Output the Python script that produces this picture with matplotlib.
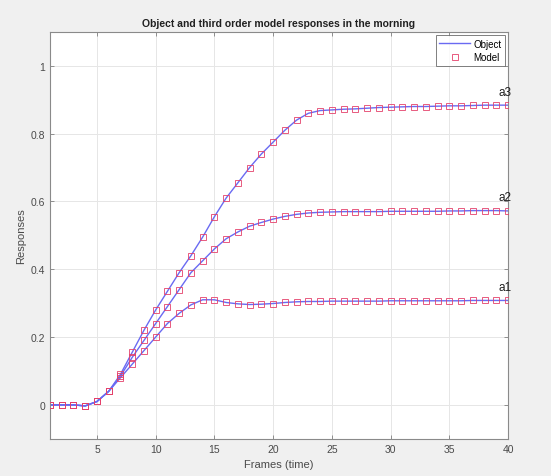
import numpy as np
import matplotlib
matplotlib.use("Agg")
import matplotlib.pyplot as plt

plt.rcParams['font.family'] = ['Liberation Sans', 'DejaVu Sans']

# frames
frames = np.arange(1, 41)

# object responses
a1 = [0, 0, 0, -0.003, 0.01, 0.04, 0.08, 0.12, 0.16, 0.20,
      0.24, 0.27, 0.295, 0.31, 0.31, 0.302, 0.298, 0.296, 0.297, 0.299,
      0.302, 0.304, 0.305, 0.305, 0.306, 0.306, 0.306, 0.306, 0.306, 0.307,
      0.307, 0.307, 0.307, 0.307, 0.307, 0.307, 0.308, 0.308, 0.308, 0.308]
a2 = [0, 0, 0, -0.003, 0.01, 0.04, 0.085, 0.14, 0.19, 0.24,
      0.29, 0.34, 0.39, 0.425, 0.46, 0.49, 0.51, 0.527, 0.538, 0.548,
      0.556, 0.562, 0.566, 0.568, 0.569, 0.57, 0.57, 0.57, 0.57, 0.571,
      0.571, 0.571, 0.571, 0.571, 0.572, 0.572, 0.573, 0.573, 0.573, 0.572]
a3 = [0, 0, 0, -0.003, 0.01, 0.04, 0.09, 0.155, 0.22, 0.28,
      0.335, 0.39, 0.44, 0.495, 0.555, 0.61, 0.655, 0.70, 0.74, 0.775,
      0.81, 0.84, 0.86, 0.868, 0.87, 0.872, 0.873, 0.875, 0.877, 0.878,
      0.879, 0.88, 0.88, 0.881, 0.882, 0.882, 0.883, 0.884, 0.884, 0.884]

# third order model responses (sit on the object curves)
m1 = list(a1)
m2 = list(a2)
m3 = list(a3)

curve_names = ['a1', 'a2', 'a3']
yticks = [0, 0.2, 0.4, 0.6, 0.8, 1]
ytick_labels = ['0', '0.2', '0.4', '0.6', '0.8', '1']
xticks = [5, 10, 15, 20, 25, 30, 35, 40]

fig = plt.figure(figsize=(5.51, 4.77), dpi=100, facecolor='#f0f0f0')
ax = fig.add_axes([0.0907, 0.078, 0.8313, 0.853])

line_col = '#6a6af2'
mark_col = '#e4406a'

objs = [a1, a2, a3]
mods = [m1, m2, m3]
for i in range(3):
    ax.plot(frames, objs[i], color=line_col, lw=1.0,
            label='Object' if i == 0 else None, zorder=2)
for i in range(3):
    ax.plot(frames, mods[i], ls='none', marker='s', ms=3.8, mfc='none',
            mec=mark_col, mew=0.6, label='Model' if i == 0 else None, zorder=3)

# curve names to the right
for name, vals in zip(curve_names, objs):
    ax.text(39.2, vals[-1] + 0.04, name, fontsize=8.5, color='#202020',
            va='center', ha='left')

ax.set_xlim(1, 40)
ax.set_ylim(-0.1, 1.1)
ax.set_xticks(xticks)
ax.set_yticks(yticks)
ax.set_yticklabels(ytick_labels)
ax.grid(True, color='#e6e6e6', lw=0.7)
ax.set_axisbelow(True)
ax.tick_params(direction='in', length=3, width=0.6, colors='#808080',
               labelcolor='#4a4a4a', labelsize=7.5, top=True, right=True)
for s in ax.spines.values():
    s.set_color('#8a8a8a')
    s.set_linewidth(0.8)

ax.set_title('Object and third order model responses in the morning',
             fontsize=7.5, fontweight='bold', color='#202020', pad=4)
ax.set_xlabel('Frames (time)', fontsize=8, color='#4a4a4a', labelpad=4)
ax.set_ylabel('Responses', fontsize=8, color='#4a4a4a', labelpad=3)

leg = ax.legend(loc='upper right', fontsize=7, frameon=True, fancybox=False,
                edgecolor='#606060', handlelength=3.2, borderpad=0.35,
                labelspacing=0.35, handletextpad=0.3, borderaxespad=0.35)
leg.get_frame().set_linewidth(0.7)

fig.savefig('out.png', dpi=100, facecolor=fig.get_facecolor())
